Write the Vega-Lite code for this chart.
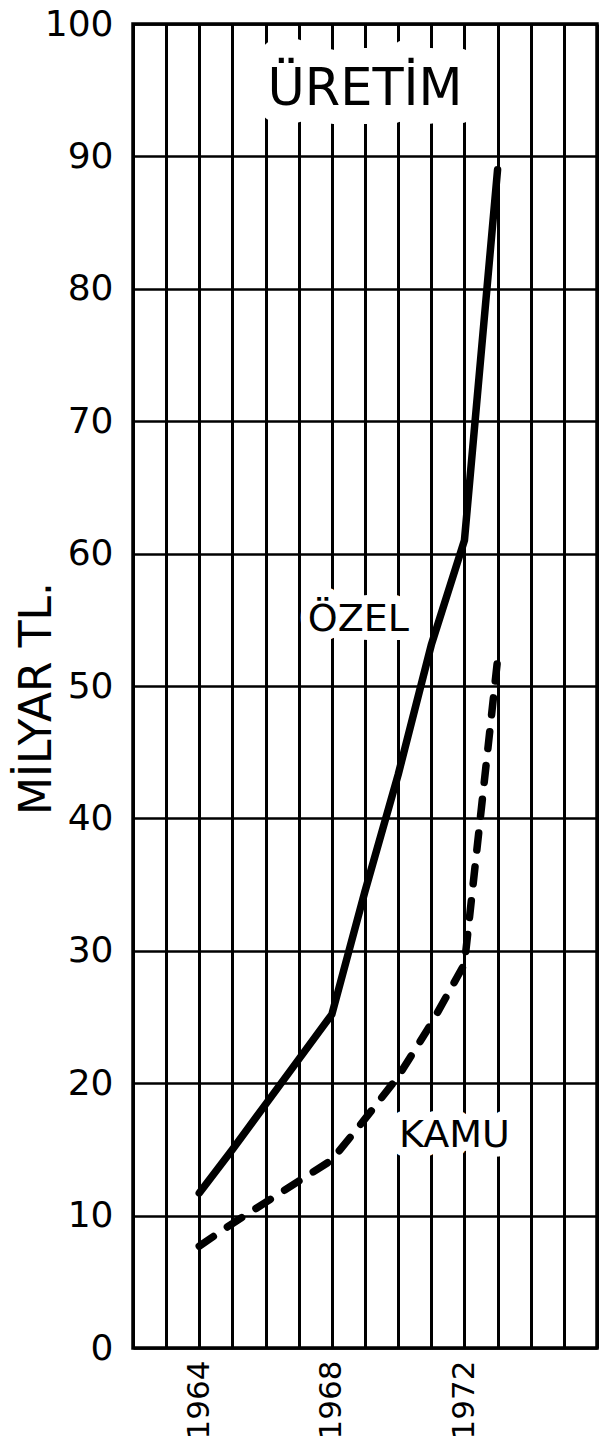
{
  "$schema": "https://vega.github.io/schema/vega-lite/v6.json",
  "width": 464,
  "height": 1324,
  "autosize": "none",
  "padding": {"left": 133, "top": 24, "right": 13, "bottom": 96},
  "background": "white",
  "config": {
    "view": {"stroke": "black", "strokeWidth": 3.5},
    "font": "DejaVu Sans",
    "axis": {
      "gridColor": "black",
      "gridOpacity": 1,
      "ticks": false,
      "domain": false,
      "labelColor": "black",
      "labelFont": "DejaVu Sans",
      "titleFont": "DejaVu Sans",
      "titleColor": "black",
      "titleFontWeight": "normal"
    }
  },
  "datasets": {
    "series": [
      {"year": 1964, "value": 11.7, "sektor": "Özel"},
      {"year": 1965, "value": 15.0, "sektor": "Özel"},
      {"year": 1966, "value": 18.4, "sektor": "Özel"},
      {"year": 1967, "value": 21.8, "sektor": "Özel"},
      {"year": 1968, "value": 25.2, "sektor": "Özel"},
      {"year": 1969, "value": 34.5, "sektor": "Özel"},
      {"year": 1970, "value": 43.3, "sektor": "Özel"},
      {"year": 1971, "value": 53.1, "sektor": "Özel"},
      {"year": 1972, "value": 61.0, "sektor": "Özel"},
      {"year": 1973, "value": 89.0, "sektor": "Özel"},
      {"year": 1964, "value": 7.7, "sektor": "Kamu"},
      {"year": 1965, "value": 9.4, "sektor": "Kamu"},
      {"year": 1966, "value": 11.0, "sektor": "Kamu"},
      {"year": 1967, "value": 12.6, "sektor": "Kamu"},
      {"year": 1968, "value": 14.2, "sektor": "Kamu"},
      {"year": 1969, "value": 17.3, "sektor": "Kamu"},
      {"year": 1970, "value": 20.5, "sektor": "Kamu"},
      {"year": 1971, "value": 24.5, "sektor": "Kamu"},
      {"year": 1972, "value": 29.0, "sektor": "Kamu"},
      {"year": 1973, "value": 52.0, "sektor": "Kamu"}
    ],
    "notes": [
      {"text": "ÜRETİM", "year": 1969.0, "value": 95.0, "kind": "title"},
      {"text": "ÖZEL", "year": 1968.8, "value": 55.0, "kind": "label"},
      {"text": "KAMU", "year": 1971.7, "value": 16.0, "kind": "label"}
    ]
  },
  "encoding": {
    "x": {
      "field": "year",
      "type": "quantitative",
      "scale": {"domain": [1962, 1976], "nice": false, "zero": false},
      "axis": {
        "values": [1962, 1963, 1964, 1965, 1966, 1967, 1968, 1969, 1970, 1971, 1972, 1973, 1974, 1975, 1976],
        "grid": true,
        "gridWidth": 3,
        "format": "d",
        "labelExpr": "datum.value == 1964 || datum.value == 1968 || datum.value == 1972 ? datum.label : ''",
        "labelAngle": -90,
        "labelFontSize": 31,
        "labelPadding": 12,
        "labelOverlap": false,
        "labelFlush": false,
        "labelBound": false,
        "title": null
      }
    },
    "y": {
      "field": "value",
      "type": "quantitative",
      "scale": {"domain": [0, 100], "nice": false},
      "axis": {
        "values": [0, 10, 20, 30, 40, 50, 60, 70, 80, 90, 100],
        "grid": true,
        "gridWidth": 2.5,
        "labelFontSize": 36,
        "labelPadding": 20,
        "labelOverlap": false,
        "labelFlush": false,
        "title": "MİLYAR TL.",
        "titleFontSize": 44,
        "titleAngle": 270,
        "titleX": -96,
        "titleY": 674,
        "titleAlign": "center",
        "titleBaseline": "middle"
      }
    }
  },
  "layer": [
    {
      "data": {"name": "notes"},
      "mark": {"type": "text", "fill": "white", "stroke": "white", "strokeJoin": "round", "align": "center", "baseline": "middle", "font": "DejaVu Sans"},
      "encoding": {
        "text": {"field": "text"},
        "size": {"field": "kind", "type": "nominal", "scale": {"domain": ["title", "label"], "range": [51, 38]}, "legend": null},
        "strokeWidth": {"field": "kind", "type": "nominal", "scale": {"domain": ["title", "label"], "range": [38, 18]}, "legend": null}
      }
    },
    {
      "data": {"name": "series"},
      "transform": [{"filter": "datum.sektor == 'Özel'"}],
      "mark": {"type": "line", "color": "black", "strokeWidth": 7.5, "strokeCap": "round", "strokeJoin": "round"},
      "encoding": {}
    },
    {
      "data": {"name": "series"},
      "transform": [{"filter": "datum.sektor == 'Kamu'"}],
      "mark": {"type": "line", "color": "black", "strokeWidth": 7.5, "strokeCap": "round", "strokeJoin": "round", "strokeDash": [17, 17]},
      "encoding": {}
    },
    {
      "data": {"name": "notes"},
      "mark": {"type": "text", "color": "black", "align": "center", "baseline": "middle", "font": "DejaVu Sans"},
      "encoding": {
        "text": {"field": "text"},
        "size": {"field": "kind", "type": "nominal", "scale": {"domain": ["title", "label"], "range": [51, 38]}, "legend": null}
      }
    }
  ]
}
